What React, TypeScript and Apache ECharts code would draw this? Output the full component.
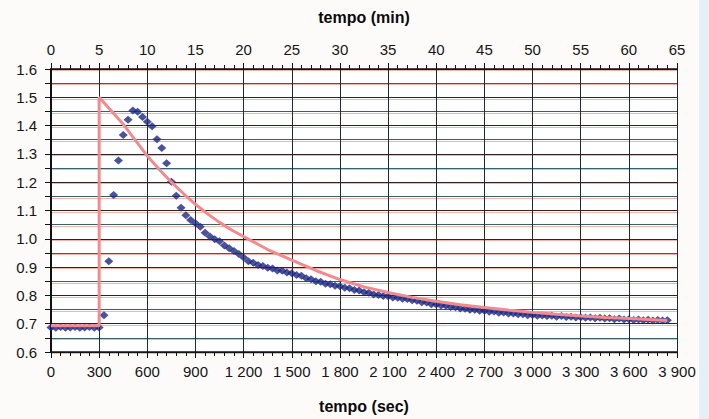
import React, { useEffect, useRef } from "react";
import * as echarts from "echarts";

const dataTimes = [
  0, 30, 60, 90, 120, 150, 180, 210, 240, 270, 300, 330, 360, 390, 420, 450, 480, 510, 540, 570,
  600, 630, 660, 690, 720, 750, 780, 810, 840, 870, 900, 930, 960, 990, 1020, 1050, 1080, 1110, 1140, 1170,
  1200, 1230, 1260, 1290, 1320, 1350, 1380, 1410, 1440, 1470, 1500, 1530, 1560, 1590, 1620, 1650, 1680, 1710, 1740, 1770,
  1800, 1830, 1860, 1890, 1920, 1950, 1980, 2010, 2040, 2070, 2100, 2130, 2160, 2190, 2220, 2250, 2280, 2310, 2340, 2370,
  2400, 2430, 2460, 2490, 2520, 2550, 2580, 2610, 2640, 2670, 2700, 2730, 2760, 2790, 2820, 2850, 2880, 2910, 2940, 2970,
  3000, 3030, 3060, 3090, 3120, 3150, 3180, 3210, 3240, 3270, 3300, 3330, 3360, 3390, 3420, 3450, 3480, 3510, 3540, 3570,
  3600, 3630, 3660, 3690, 3720, 3750, 3780, 3810, 3840,
];

const dataValues = [
  0.687, 0.686, 0.688, 0.686, 0.687, 0.688, 0.686, 0.687, 0.688, 0.686, 0.687, 0.73, 0.921, 1.155, 1.277, 1.367, 1.421, 1.453, 1.449, 1.43,
  1.414, 1.398, 1.352, 1.321, 1.267, 1.202, 1.152, 1.11, 1.083, 1.066, 1.055, 1.043, 1.021, 1.008, 0.998, 0.991, 0.976, 0.967, 0.957, 0.946,
  0.934, 0.921, 0.915, 0.907, 0.904, 0.898, 0.895, 0.888, 0.887, 0.881, 0.878, 0.872, 0.869, 0.861, 0.857, 0.85, 0.848, 0.841, 0.839, 0.834,
  0.832, 0.827, 0.825, 0.819, 0.817, 0.811, 0.809, 0.803, 0.801, 0.798, 0.797, 0.793, 0.792, 0.788, 0.787, 0.783, 0.781, 0.776, 0.775, 0.769,
  0.768, 0.764, 0.763, 0.759, 0.758, 0.754, 0.753, 0.749, 0.749, 0.746, 0.746, 0.742, 0.743, 0.739, 0.74, 0.736, 0.736, 0.733, 0.733, 0.73,
  0.731, 0.728, 0.729, 0.727, 0.728, 0.725, 0.727, 0.724, 0.725, 0.722, 0.723, 0.721, 0.722, 0.719, 0.721, 0.718, 0.719, 0.716, 0.718, 0.715,
  0.716, 0.713, 0.715, 0.712, 0.714, 0.711, 0.713, 0.711, 0.712,
];

const modelTimes = [
  0, 300, 300, 350, 400, 450, 500, 550, 600, 675, 750, 825, 900, 975, 1050, 1125, 1200, 1350, 1500, 1650,
  1800, 1950, 2100, 2250, 2400, 2550, 2700, 2850, 3000, 3150, 3300, 3450, 3600, 3750, 3840,
];
const modelValues = [
  0.693, 0.693, 1.5, 1.468, 1.437, 1.405, 1.367, 1.33, 1.293, 1.245, 1.2, 1.16, 1.122, 1.088, 1.058, 1.031, 1.008, 0.962, 0.925, 0.888,
  0.856, 0.83, 0.81, 0.793, 0.779, 0.767, 0.757, 0.748, 0.74, 0.733, 0.727, 0.722, 0.718, 0.714, 0.711,
];

const secTicks = [0, 300, 600, 900, 1200, 1500, 1800, 2100, 2400, 2700, 3000, 3300, 3600, 3900];
const minTicks = [0, 5, 10, 15, 20, 25, 30, 35, 40, 45, 50, 55, 60, 65];

const FONT = "'Liberation Sans', Arial, sans-serif";

function fmtSec(v: number): string {
  if (v >= 1000) {
    const th = Math.floor(v / 1000);
    const rest = String(v % 1000).padStart(3, "0");
    return th + " " + rest;
  }
  return String(v);
}

export default function App() {
  const ref = useRef<HTMLDivElement>(null);
  useEffect(() => {
    if (!ref.current) return;
    const chart = echarts.init(ref.current, undefined, { renderer: "svg" });
    const G = { left: 51, top: 69, width: 626, height: 283 };
    const labelStyle = { fontFamily: FONT, fontSize: 15, color: "#151515" };
    const nameStyle = { fontFamily: FONT, fontSize: 16, fontWeight: "bold" as const, color: "#0a0a0a" };
    chart.setOption({
      animation: false,
      backgroundColor: "#fdfbfa",
      graphic: [
        { type: "rect", left: 699, top: 0, shape: { width: 10, height: 419 }, style: { fill: "#e3f1f6" }, z: -10 },
        { type: "rect", left: 51, top: 69, shape: { width: 626, height: 283 }, style: { fill: "#ffffff" }, z: -5 },
      ],
      grid: [
        { ...G },
        { left: 51, top: 70.5, width: 626, height: 283 },
      ],
      xAxis: [
        {
          type: "value",
          gridIndex: 0,
          position: "bottom",
          min: 0,
          max: 3900,
          interval: 300,
          name: "tempo (sec)",
          nameLocation: "middle",
          nameGap: 46,
          nameTextStyle: nameStyle,
          axisLine: { show: true, onZero: false, lineStyle: { color: "#111", width: 1.5 } },
          axisTick: { show: true, length: 6, lineStyle: { color: "#111" } },
          minorTick: { show: true, splitNumber: 5, length: 4, lineStyle: { color: "#111" } },
          axisLabel: { ...labelStyle, margin: 12, formatter: (v: number) => fmtSec(v), customValues: secTicks },
          splitLine: { show: true, lineStyle: { color: "#1f2b30", width: 1 } },
        },
        {
          type: "value",
          gridIndex: 0,
          position: "top",
          min: 0,
          max: 65,
          interval: 5,
          name: "tempo (min)",
          nameLocation: "middle",
          nameGap: 44,
          nameTextStyle: nameStyle,
          axisLine: { show: true, onZero: false, lineStyle: { color: "#111", width: 1.5 } },
          axisTick: { show: true, length: 6, lineStyle: { color: "#111" } },
          minorTick: { show: true, splitNumber: 5, length: 4, lineStyle: { color: "#111" } },
          axisLabel: { ...labelStyle, margin: 12, customValues: minTicks },
          splitLine: { show: false },
        },
        {
          type: "value",
          gridIndex: 1,
          min: 0,
          max: 3900,
          show: false,
        },
      ],
      yAxis: [
        {
          type: "value",
          gridIndex: 0,
          min: 0.6,
          max: 1.6,
          interval: 0.1,
          axisLine: { show: true, onZero: false, lineStyle: { color: "#111", width: 2 } },
          axisTick: { show: true, length: 6, lineStyle: { color: "#111" } },
          minorTick: { show: true, splitNumber: 2, length: 6, lineStyle: { color: "#111" } },
          axisLabel: { ...labelStyle, margin: 14, formatter: (v: number) => v.toFixed(1) },
          splitLine: { show: true, lineStyle: { color: "#2e2222", width: 1 } },
          minorSplitLine: { show: true, lineStyle: { color: "#35606c", width: 1 } },
        },
        {
          type: "value",
          gridIndex: 1,
          min: 0.6,
          max: 1.6,
          interval: 0.05,
          axisLine: { show: false },
          axisTick: { show: false },
          axisLabel: { show: false },
          splitLine: { show: true, lineStyle: { color: "#f2b4a6", width: 1 } },
        },
      ],
      series: [
        {
          type: "scatter",
          xAxisIndex: 0,
          yAxisIndex: 0,
          symbol: "diamond",
          symbolSize: [9, 8],
          itemStyle: { color: "#1c2782" },
          data: dataTimes.map((t, i) => [t, dataValues[i]]),
          z: 3,
        },
        {
          type: "line",
          xAxisIndex: 0,
          yAxisIndex: 0,
          showSymbol: false,
          symbol: "none",
          lineStyle: { color: "#f28a8e", width: 3 },
          data: modelTimes.map((t, i) => [t, modelValues[i]]),
          z: 4,
        },
      ],
    });
    return () => chart.dispose();
  }, []);
  return <div ref={ref} style={{ width: 709, height: 419, position: "absolute", left: 0, top: 0 }} />;
}
